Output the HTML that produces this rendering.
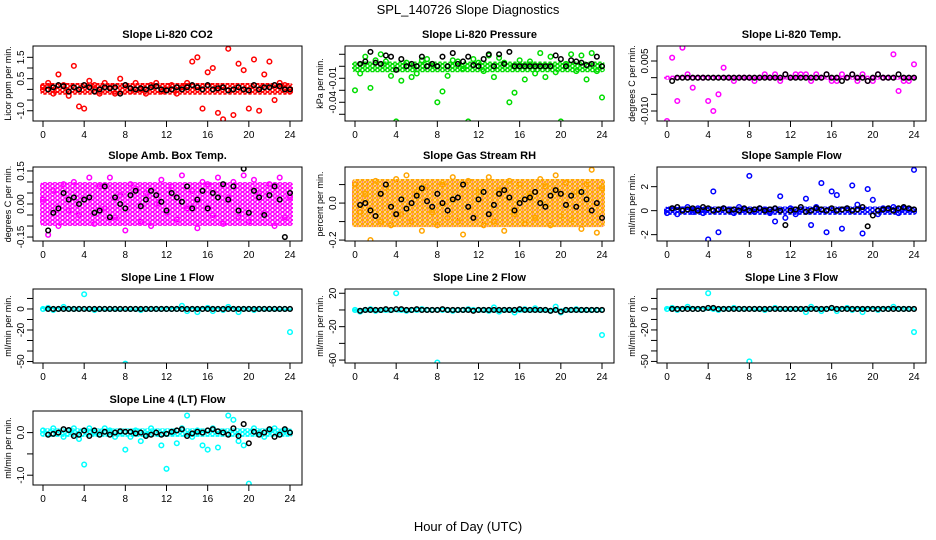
<!DOCTYPE html>
<html><head><meta charset="utf-8"><style>
html,body{margin:0;padding:0;background:#fff;}
svg{display:block;font-family:"Liberation Sans","DejaVu Sans",sans-serif;}
</style></head><body>
<svg id="chart" width="936" height="540" viewBox="0 0 936 540" xmlns="http://www.w3.org/2000/svg">
<defs id="defs"></defs>
<text x="468" y="14" text-anchor="middle" font-size="13">SPL_140726  Slope Diagnostics</text>
<text x="468" y="531" text-anchor="middle" font-size="13">Hour of Day (UTC)</text>
</svg>
<script>
const hoursH=[0,0.5,1,1.5,2,2.5,3,3.5,4,4.5,5,5.5,6,6.5,7,7.5,8,8.5,9,9.5,10,10.5,11,11.5,12,12.5,13,13.5,14,14.5,15,15.5,16,16.5,17,17.5,18,18.5,19,19.5,20,20.5,21,21.5,22,22.5,23,23.5,24];
const xTicks=[0,4,8,12,16,20,24];

const co2Vals=[0.1,0.3,-0.2,0.7,0.2,-0.3,1.1,-0.8,-0.9,0.4,0.2,-0.2,0.3,0.1,-0.2,0.5,0.2,-0.1,0.3,0.0,-0.2,0.2,0.3,-0.1,0.0,0.2,-0.2,0.1,0.3,1.3,1.5,-0.9,0.8,1.0,-1.1,-1.4,1.9,-1.2,1.2,0.9,-0.9,1.4,-1.0,0.7,1.3,-0.5,0.3,0.2,-0.1];
const co2Black=[0.1,0.0,0.1,0.2,0.15,-0.1,0.1,0.0,0.2,0.1,-0.1,0.0,0.1,0.05,0.1,-0.2,0.2,0.05,0.0,0.05,0.0,0.1,0.15,0.0,-0.05,0.0,0.1,0.0,0.1,0.2,0.1,0.0,0.2,0.0,0.05,0.1,-0.05,0.0,0.1,0.0,-0.05,0.2,0.0,0.1,0.1,0.2,0.15,0.0,0.0];
const co2Band=[-0.25,0.3];

const presVals=[-0.02,-0.006,0.008,-0.018,0.005,0.010,0.004,-0.008,-0.046,-0.012,0.003,-0.009,-0.006,0.005,0.006,0.002,-0.03,-0.021,-0.008,0.005,0.004,-0.002,-0.046,0.006,0.003,-0.004,0.009,-0.009,0.007,0.003,-0.03,-0.022,0.005,-0.011,0.004,-0.006,0.011,-0.009,0.008,-0.005,-0.046,0.002,0.010,-0.004,0.009,-0.011,0.011,-0.004,-0.026];
const presBlack=[0.0,0.002,0.004,0.012,0.003,0.002,0.009,0.008,-0.003,0.006,0.0,0.002,0.0,0.008,0.0,0.002,0.0,0.008,0.0,0.011,0.002,0.004,0.008,0.001,0.0,0.006,0.01,0.0,0.01,0.002,0.012,0.0,0.0,0.0,0.0,0.0,0.0,0.0,0.0,0.009,0.006,0.0,0.005,0.004,0.003,0.001,0.002,0.008,0.0];
const presBand=[-0.005,0.004];

const tempVals=[-0.013,0.006,-0.007,0.009,0.001,-0.003,0,0,-0.007,-0.010,-0.005,0.003,0,-0.001,0,0,0,-0.001,0,0.001,0,0.001,-0.001,0.001,0,0.001,0.001,0.001,-0.001,0.001,0,0.001,-0.001,-0.001,0.001,0,0.001,-0.001,0.001,-0.001,-0.001,0.001,0,0,0.007,-0.004,-0.001,-0.001,0.004];
const tempBlack=[0,-0.001,0,0,0,0,0,0,0,0,0,0,0,0,0,0,0,0,0,0,0,0,0,0.001,0,0,0,0,0,0,0,0.001,0,0,-0.001,0,0.001,0,0,-0.001,0,0.001,0,0,0,0.001,0,0,0];
const tempBand=[-0.0006,0.0006];

const ambVals=[0.02,-0.14,0.06,-0.1,0.09,-0.03,0.1,-0.05,0.02,0.12,-0.09,0.08,-0.02,0.12,-0.06,0.04,-0.12,0.09,0.07,-0.08,0.05,-0.1,0.0,0.11,-0.04,0.08,-0.07,0.13,-0.02,0.06,-0.11,0.1,0.09,-0.05,0.12,-0.09,0.03,0.1,-0.06,0.13,-0.08,0.11,0.05,-0.04,0.09,-0.1,0.12,-0.06,0.03];
const ambBlack=[0.03,-0.12,-0.04,-0.02,0.05,0.02,0.03,0.0,0.02,0.03,-0.04,-0.03,0.08,-0.06,0.03,0.0,-0.02,0.04,0.06,-0.01,0.02,0.06,0.04,0.01,-0.03,0.05,0.03,0.01,0.08,-0.02,0.02,0.06,-0.02,0.05,0.03,0.09,0.02,0.08,-0.03,0.16,-0.04,0.06,0.03,-0.05,0.04,0.08,0.02,-0.15,0.05];
const ambBand=[-0.1,0.1];

const rhVals=[0.1,-0.05,0.05,-0.2,0.12,-0.1,0.08,-0.12,0.13,-0.06,0.15,-0.1,0.06,-0.15,0.09,-0.05,-0.12,0.1,-0.08,0.14,-0.1,-0.17,0.12,-0.08,0.06,-0.12,0.14,-0.1,0.07,-0.15,0.12,-0.06,0.1,-0.11,0.05,-0.08,0.13,0.09,-0.12,0.15,-0.07,0.11,-0.09,0.06,-0.14,0.1,0.18,-0.16,0.08];
const rhBlack=[0.02,-0.01,0.0,-0.04,-0.07,0.05,0.1,-0.02,-0.06,0.02,-0.03,0.0,0.04,0.08,0.01,-0.02,0.05,0.0,-0.04,0.02,0.03,0.1,-0.02,-0.08,0.02,0.06,-0.06,-0.01,0.05,0.07,0.03,-0.04,0.0,0.02,0.03,0.06,0.0,-0.02,0.04,0.07,0.05,-0.01,0.04,-0.02,0.06,0.02,-0.04,0.0,-0.08];
const rhBand=[-0.13,0.13];

const sfVals=[-0.2,0.2,-0.3,0.1,0.3,-0.1,0.2,-0.2,-2.4,1.6,-1.8,0.2,0.1,-0.2,0.3,0.1,2.9,-0.1,0.2,0.1,-0.2,-0.9,1.2,-0.6,0.2,-0.3,0.1,1.0,-1.2,0.3,2.3,-1.8,1.6,1.3,-1.5,0.2,2.1,0.5,-1.9,1.8,0.9,-0.3,0.2,0.1,0.3,-0.2,0.2,0.1,3.4];
const sfBlack=[0,0.2,0.3,0,0.1,0.2,0,0.3,0.2,0,0.1,0.2,0,0.1,0,0.2,0,0.1,0.2,0,0.1,0.2,0,-1.2,0,0.1,0.3,-0.1,0,0.2,0.1,0,0.2,0,0.1,0.2,0,0.1,0.3,-1.3,-0.4,0,0.1,0.2,0,0.2,0.3,0.2,0.1];
const sfBand=[-0.35,0.35];

const l1Vals=[0,1,-1,0,2,0,0,0,14,0,-1,0,0,0,0,0,-52,0,0,-1,0,0,0,0,0,0,0,3,-2,0,-3,0,1,-2,0,-1,2,0,-3,0,0,-1,0,0,0,0,0,0,-22];
const l1Black=[0,0,0,0,0,0,0,0,0,0,0,0,0,0,0,0,0,0,0,0,0,0,0,0,0,0,0,0,0,0,0,0,0,0,0,0,0,0,0,0,0,0,0,0,0,0,0,0,0];
const l1Band=[-2,2];

const l2Vals=[0,-2,0,1,-1,0,0,0,20,0,-1,0,0,1,0,0,-63,0,0,-1,0,0,1,0,0,0,-1,3,-2,0,0,-3,0,1,0,2,0,0,-1,4,-3,0,0,1,0,0,0,0,-30];
const l2Black=[-1,-1,0,0,0,0,1,0,1,1,0,0,1,0,0,0,0,1,0,0,0,0,0,-1,0,0,0,0,0,0,0,0,1,0,0,0,0,0,-1,0,-2,0,0,0,0,0,0,0,0];
const l2Band=[-3,2];

const l3Vals=[0,1,-1,0,2,0,0,0,15,0,-1,0,0,1,0,0,-50,0,0,-1,0,1,0,0,0,0,0,-3,2,0,-2,0,1,-2,0,1,-1,0,-3,0,0,-1,0,0,2,0,0,0,-22];
const l3Black=[0,0,0,0,0,0,0,0,1,1,0,0,0,0,0,0,0,0,0,0,0,0,0,0,0,0,0,0,0,0,0,0,1,0,0,0,0,0,0,0,0,0,0,0,0,0,0,0,0];
const l3Band=[-2,2];

const l4Vals=[0.05,-0.05,0.1,0.0,-0.1,0.05,0.1,-0.15,-0.75,0.1,0.0,-0.05,0.1,0.05,-0.1,0.0,-0.4,-0.1,0.05,-0.2,-0.05,0.1,0.0,-0.3,-0.85,0.0,-0.25,0.1,0.4,-0.1,0.05,-0.3,-0.4,0.1,-0.35,0.0,0.4,0.3,-0.2,-0.3,-1.2,0.1,0.0,-0.1,0.05,0.1,-0.05,0.05,0.0];
const l4Black=[-0.05,-0.05,-0.03,0.0,0.08,0.06,-0.08,-0.05,0.05,-0.08,0.05,-0.05,0.02,-0.05,0.0,0.03,0.02,0.02,-0.02,0.0,-0.08,-0.05,0.0,-0.05,-0.03,0.02,0.05,0.08,-0.08,-0.02,0.02,0.0,0.05,0.08,0.03,0.0,-0.05,0.1,-0.08,0.2,-0.25,0.02,-0.05,0.0,0.08,-0.1,-0.05,0.08,0.0];
const l4Band=[-0.1,0.1];

const NS="http://www.w3.org/2000/svg";
const svg=document.getElementById('chart');
const defs=document.getElementById('defs');
function mk(tag,attrs,parent){const e=document.createElementNS(NS,tag);for(const k in attrs)e.setAttribute(k,attrs[k]);(parent||svg).appendChild(e);return e;}

const panels=[
 {id:'co2',title:'Slope Li-820 CO2',yl:'Licor ppm per min.',col:0,row:0,dom:[-1.48,2.03],ticks:[-1,-0.5,0,0.5,1,1.5],labels:['-1.0','','','0.5','','1.5'],vals:co2Vals,blk:co2Black,band:co2Band,color:'#ff0000'},
 {id:'pressure',title:'Slope Li-820 Pressure',yl:'kPa per min.',col:1,row:0,dom:[-0.0456,0.0169],ticks:[-0.04,-0.03,-0.02,-0.01,0,0.01],labels:['','-0.04','','-0.01','',''],vals:presVals,blk:presBlack,band:presBand,color:'#00dd00'},
 {id:'li820-temp',title:'Slope Li-820 Temp.',yl:'degrees C per min.',col:2,row:0,dom:[-0.013,0.0095],ticks:[-0.01,-0.005,0,0.005],labels:['-0.010','','','0.005'],vals:tempVals,blk:tempBlack,band:tempBand,color:'#ff00ff'},
 {id:'amb-box-temp',title:'Slope Amb. Box Temp.',yl:'degrees C per min.',col:0,row:1,dom:[-0.168,0.168],ticks:[-0.15,-0.1,-0.05,0,0.05,0.1,0.15],labels:['-0.15','','','0.00','','','0.15'],vals:ambVals,blk:ambBlack,band:ambBand,color:'#ff00ff'},
 {id:'gas-stream-rh',title:'Slope Gas Stream RH',yl:'percent per min.',col:1,row:1,dom:[-0.205,0.195],ticks:[-0.2,-0.1,0,0.1],labels:['-0.2','','0.0',''],vals:rhVals,blk:rhBlack,band:rhBand,color:'#ffa500',dot:'#ff0000'},
 {id:'sample-flow',title:'Slope Sample Flow',yl:'ml/min per min.',col:2,row:1,dom:[-2.53,3.64],ticks:[-2,0,2],labels:['-2','0','2'],vals:sfVals,blk:sfBlack,band:sfBand,color:'#0000ff'},
 {id:'line1-flow',title:'Slope Line 1 Flow',yl:'ml/min per min.',col:0,row:2,dom:[-51.4,19],ticks:[-50,-40,-30,-20,-10,0,10],labels:['-50','','','-20','','0',''],vals:l1Vals,blk:l1Black,band:l1Band,color:'#00ffff'},
 {id:'line2-flow',title:'Slope Line 2 Flow',yl:'ml/min per min.',col:1,row:2,dom:[-63.5,25.1],ticks:[-60,-40,-20,0,20],labels:['-60','','-20','','20'],vals:l2Vals,blk:l2Black,band:l2Band,color:'#00ffff'},
 {id:'line3-flow',title:'Slope Line 3 Flow',yl:'ml/min per min.',col:2,row:2,dom:[-51.5,19],ticks:[-50,-40,-30,-20,-10,0,10],labels:['-50','','','-20','','0',''],vals:l3Vals,blk:l3Black,band:l3Band,color:'#00ffff'},
 {id:'line4-flow',title:'Slope Line 4 (LT) Flow',yl:'ml/min per min.',col:0,row:3,dom:[-1.23,0.507],ticks:[-1,-0.5,0],labels:['-1.0','','0.0'],vals:l4Vals,blk:l4Black,band:l4Band,color:'#00ffff'}
];
const colLeft=[33,345,657], W=269;
const rowTop=[46,167,289,411], rowBot=[121,241,363,485];

panels.forEach(p=>{
  // textured pattern for dense band (rings of the series colour)
  const pat=mk('pattern',{id:'pat-'+p.id,width:5,height:4,patternUnits:'userSpaceOnUse'},defs);
  mk('rect',{width:5,height:4,fill:'#fff'},pat);
  mk('circle',{cx:2.5,cy:2,r:1.8,fill:'none',stroke:p.color,'stroke-width':1.4},pat);
  mk('circle',{cx:0,cy:0,r:1.6,fill:'none',stroke:p.color,'stroke-width':1.2},pat);
  mk('circle',{cx:5,cy:4,r:1.6,fill:'none',stroke:p.color,'stroke-width':1.2},pat);
  if(p.dot){mk('rect',{x:2,y:1.5,width:1,height:1,fill:p.dot},pat);}

  const L=colLeft[p.col], R=L+W, T=rowTop[p.row], B=rowBot[p.row];
  const x0=L+10, x1=L+257;
  const xs=h=>x0+(h/24)*(x1-x0);
  const ys=v=>B-(v-p.dom[0])/(p.dom[1]-p.dom[0])*(B-T);
  const g=mk('g',{});
  
  
  const t=mk('text',{x:(L+R)/2,y:T-8,'text-anchor':'middle','font-size':'11','font-weight':'bold'},g);
  t.textContent=p.title;
  
  
  const clip=mk('clipPath',{id:'clip-'+p.id},g);
  mk('rect',{x:L,y:T,width:W,height:B-T},clip);
  const plot=mk('g',{'clip-path':'url(#clip-'+p.id+')'},g);
  const band=mk('rect',{x:xs(0)-3,y:ys(p.band[1]),width:xs(24)-xs(0)+6,height:ys(p.band[0])-ys(p.band[1]),fill:'url(#pat-'+p.id+')',rx:3},plot);
  
  
  const n=Math.min(hoursH.length,p.vals.length);
  for(let i=0;i<n;i++){
    const c=mk('circle',{cx:xs(hoursH[i]),cy:ys(p.vals[i]),r:2.3,fill:'none',stroke:p.color,'stroke-width':1.5},plot);
    
    
  }
  const m=Math.min(hoursH.length,p.blk.length);
  for(let i=1;i<m;i++){
    const c=mk('circle',{cx:xs(hoursH[i]),cy:ys(p.blk[i]),r:2.3,fill:'none',stroke:'#000','stroke-width':1.5},plot);
    
    
  }
  mk('rect',{x:L,y:T,width:W,height:B-T,fill:'none',stroke:'#000','stroke-width':1},g);
  mk('line',{x1:xs(0),x2:xs(24),y1:B,y2:B,stroke:'#000'},g);
  xTicks.forEach(h=>{
    mk('line',{x1:xs(h),x2:xs(h),y1:B,y2:B+6,stroke:'#000'},g);
    const tl=mk('text',{x:xs(h),y:B+17,'text-anchor':'middle','font-size':'10'},g);
    tl.textContent=h;
    
    
  });
  p.ticks.forEach((v,i)=>{
    const y=ys(v);
    mk('line',{x1:L-6,x2:L,y1:y,y2:y,stroke:'#000'},g);
    if(p.labels[i]){
      const tl=mk('text',{x:0,y:0,'text-anchor':'middle','font-size':'10',transform:`translate(${L-9},${y}) rotate(-90)`},g);
      tl.textContent=p.labels[i];
      
      
    }
  });
  const yt=mk('text',{x:0,y:0,'text-anchor':'middle','font-size':'9',transform:`translate(${L-22},${(T+B)/2}) rotate(-90)`},g);
  yt.textContent=p.yl;
  
  
});
</script>
</body></html>
